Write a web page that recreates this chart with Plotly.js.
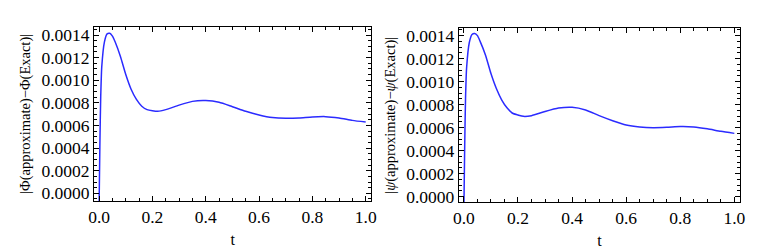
<!DOCTYPE html>
<html>
<head>
<meta charset="utf-8">
<script src="https://cdn.plot.ly/plotly-3.0.1.min.js"></script>
<style>html,body{margin:0;padding:0;background:#fff;}#chart{width:768px;height:250px;}</style>
</head>
<body>
<div id="chart"></div>
<script>
const t = [0, 0.003, 0.006, 0.01, 0.02, 0.03, 0.04, 0.05, 0.06, 0.08, 0.10, 0.12, 0.14, 0.16, 0.18, 0.20, 0.22, 0.25, 0.30, 0.35, 0.40, 0.45, 0.50, 0.55, 0.60, 0.65, 0.70, 0.75, 0.80, 0.85, 0.90, 0.95, 1.0];
const phiErr = [-0.0001, 0.00045, 0.00085, 0.00112, 0.00134, 0.00141, 0.001415, 0.00139, 0.00134, 0.00121, 0.00105, 0.00092, 0.00083, 0.00077, 0.00074, 0.00073, 0.000725, 0.00074, 0.00078, 0.000813, 0.00082, 0.000805, 0.000766, 0.000725, 0.000693, 0.00067, 0.000663, 0.000666, 0.000675, 0.000678, 0.000666, 0.000645, 0.00063];
const psiErr = [-0.0001, 0.00045, 0.00085, 0.00112, 0.00134, 0.00141, 0.001418, 0.00140, 0.00135, 0.00123, 0.00107, 0.00094, 0.00084, 0.00077, 0.000725, 0.00071, 0.000698, 0.000704, 0.00074, 0.00077, 0.000777, 0.000754, 0.000704, 0.00066, 0.000623, 0.000606, 0.0006, 0.000603, 0.000609, 0.000606, 0.00059, 0.000568, 0.00055];
const yTicks = [0, 0.0002, 0.0004, 0.0006, 0.0008, 0.0010, 0.0012, 0.0014];
const yTickText = ['0.0000','0.0002','0.0004','0.0006','0.0008','0.0010','0.0012','0.0014'];
const xTicks = [0, 0.2, 0.4, 0.6, 0.8, 1.0];
const xTickText = ['0.0','0.2','0.4','0.6','0.8','1.0'];
const titleLeft = '|Φ(approximate)−Φ(Exact)|';
const titleRight = '|<i>ψ</i>(approximate)−<i>ψ</i>(Exact)|';

const FAM = 'Liberation Serif';
function f(size) { return {family: FAM, size: size, color: '#000'}; }
const lineStyle = {color: '#2b2bff', width: 1.5, shape: 'spline', smoothing: 0.6};

function xa(domain, range) {
  return {domain: domain, range: range, showline: true, linecolor: '#000', linewidth: 1.2, mirror: 'ticks',
    ticks: 'inside', ticklen: 5, tickwidth: 1, tickcolor: '#000', showgrid: false, zeroline: false,
    tickvals: xTicks, ticktext: xTickText, tickfont: f(17.5),
    minor: {ticks: 'inside', ticklen: 3, dtick: 0.05, tickcolor: '#000', showgrid: false},
    title: {text: 't', font: f(16), standoff: 7}};
}
function ya(domain, range, anchor, title) {
  return {domain: domain, range: range, anchor: anchor, showline: true, linecolor: '#000', linewidth: 1.2, mirror: 'ticks',
    ticks: 'inside', ticklen: 5, tickwidth: 1, tickcolor: '#000', showgrid: false, zeroline: false,
    tickvals: yTicks, ticktext: yTickText, tickfont: f(17.5),
    minor: {ticks: 'inside', ticklen: 3, dtick: 0.00005, tickcolor: '#000', showgrid: false},
    title: {text: title, font: f(14.5), standoff: 7}};
}

const data = [
  {x: t, y: phiErr, xaxis: 'x', yaxis: 'y', mode: 'lines', line: lineStyle, hoverinfo: 'skip'},
  {x: t, y: psiErr, xaxis: 'x2', yaxis: 'y2', mode: 'lines', line: lineStyle, hoverinfo: 'skip'}
];
const layout = {
  width: 768, height: 250, margin: {l: 0, r: 0, t: 0, b: 0},
  paper_bgcolor: '#fff', plot_bgcolor: '#fff', showlegend: false, font: f(14),
  xaxis: Object.assign(xa([0.1228, 0.4831], [-0.018, 1.02]), {anchor: 'y'}),
  yaxis: ya([0.196, 0.893], [-0.000068, 0.001473], 'x', titleLeft),
  xaxis2: Object.assign(xa([0.5977, 0.9632], [-0.018, 1.02]), {anchor: 'y2'}),
  yaxis2: ya([0.191, 0.887], [-0.0000487, 0.001464], 'x2', titleRight)
};
Plotly.newPlot('chart', data, layout, {staticPlot: true, displayModeBar: false});
</script>
</body>
</html>
